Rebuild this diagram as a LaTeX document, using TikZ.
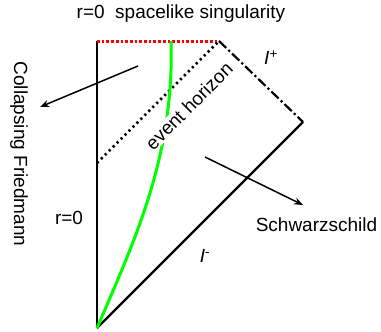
\documentclass[tikz,border=0pt]{standalone}
\usepackage{fontspec}
\setmainfont{Liberation Sans}
\usetikzlibrary{arrows.meta}
\begin{document}
\begin{tikzpicture}[x=1pt,y=-1pt,
  lbl/.style={font=\fontsize{19}{22}\selectfont, inner sep=0pt},
  edge/.style={line width=2.4pt, black},
  pointer/.style={line width=1.5pt, -{Stealth[length=9pt,width=7pt]}},
]
\useasboundingbox (0,0) rectangle (381,332);
\coordinate (B) at (97,328);
\coordinate (TL) at (97,41);
\coordinate (TR) at (219,41);
\coordinate (R) at (303,122);
\coordinate (H) at (97,163);
\coordinate (G) at (171,41);
% lines
\draw[edge] (B) -- (TL);
\draw[edge] (B) -- (R);
\draw[edge, line width=2.2pt, dash pattern=on 10pt off 3pt on 2.2pt off 3pt] (TR) -- (R);
\draw[red, line width=3pt, dash pattern=on 2.7pt off 2pt] (TL) -- (TR);
\draw[black, line width=2.6pt, dash pattern=on 2.2pt off 3.4pt] (H) -- (TR);
% green worldline
\draw[line width=3pt, green] (B) .. controls (134,242) and (174.7,156) .. (G);
% labels
\node[lbl, fill=white, rotate=45, inner sep=1pt] (eh) at (189,106) {event horizon};
\node[lbl, anchor=base] (title) at (181,18) {r=0\ \ spacelike singularity};
\node[lbl, anchor=base] (r0) at (69,224) {r=0};
\node[lbl, anchor=base] (sch) at (316.5,231) {Schwarzschild};
\node[lbl, rotate=-90] (cf) at (19,154) {Collapsing Friedmann};
\node[lbl] (ip) at (271,58) {\itshape I\textsuperscript{\upshape +}};
\node[lbl] (im) at (205,256) {\itshape I\textsuperscript{\upshape -}};
% arrows
\coordinate (a1) at (138,66);
\coordinate (a2) at (40,107);
\coordinate (b1) at (205,157);
\coordinate (b2) at (303,205);
\draw[pointer] (a1) -- (a2);
\draw[pointer] (b1) -- (b2);
\end{tikzpicture}
\end{document}
